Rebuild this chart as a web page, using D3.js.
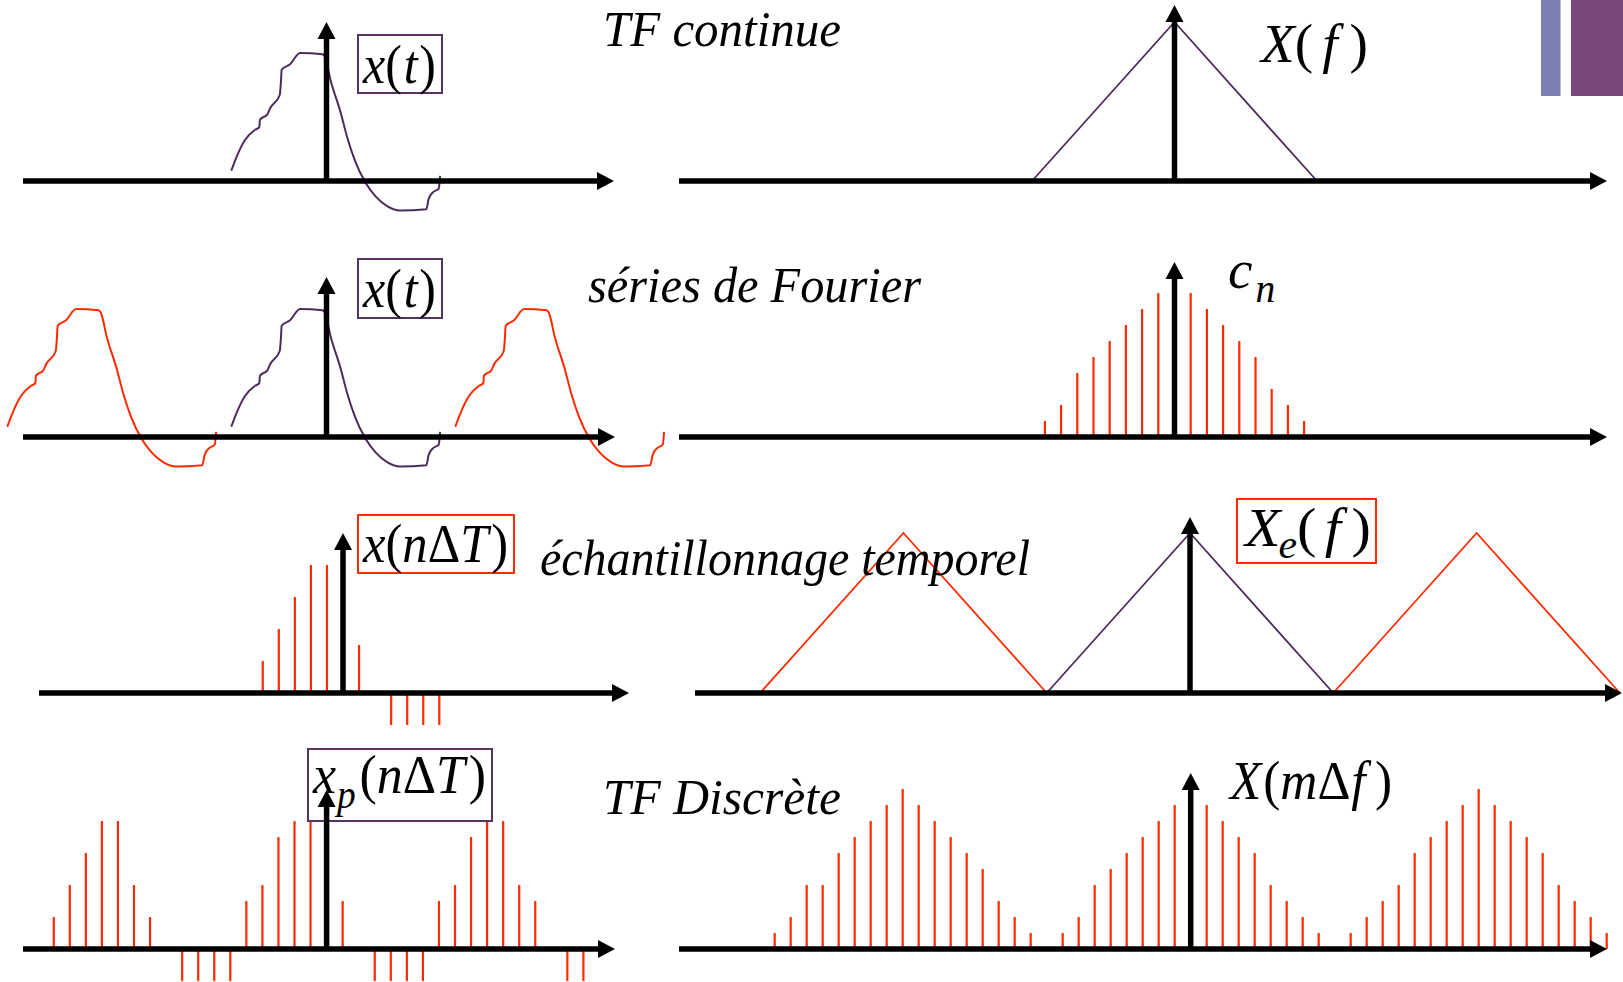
<!DOCTYPE html>
<html><head><meta charset="utf-8">
<script src="https://cdn.jsdelivr.net/npm/d3@7"></script>
<style>html,body{margin:0;padding:0;background:#fff;overflow:hidden}svg{display:block}</style>
</head><body>
<svg id="chart" width="1623" height="982"></svg>
<script>
// ---------------- DATA ----------------
// continuous signal x(t), one period (t in units, period = 10), amplitude peak = 1
const signalT = [-4.25,-4.01,-3.64,-3.19,-3.00,-2.97,-2.64,-2.51,-2.09,-2.04,-2.00,-1.64,-1.18,-0.18,-0.05,0.18,0.64,0.91,1.27,1.73,2.19,2.74,3.28,4.46,4.56,4.74,5.01,5.07];
const signalX = [0.08,0.19,0.32,0.40,0.42,0.48,0.52,0.57,0.67,0.76,0.87,0.91,1.00,0.99,0.96,0.79,0.53,0.35,0.16,-0.01,-0.12,-0.20,-0.23,-0.22,-0.14,-0.09,-0.06,0.04];
const signalPeriod = 10;
const periodicCopies = [-1, 0, 1];

// continuous spectrum X(f): triangle
const spectrumF = [-1, 0, 1];
const spectrumX = [0, 1, 0];
const samplingFreq = 2;          // spectrum period after sampling
const spectrumCopies = [-1, 0, 1];

// Fourier series coefficients c_n
const cnIndex  = [-8,-7,-6,-5,-4,-3,-2,-1, 1, 2, 3, 4, 5, 6, 7, 8];
const cnValues = [ 1, 2, 4, 5, 6, 7, 8, 9, 9, 8, 7, 6, 5, 3, 2, 1];

// samples x(nΔT)
const sampleIndex  = [-5,-4,-3,-2,-1, 1, 3, 4, 5, 6];
const sampleValues = [ 2, 4, 6, 8, 8, 3,-2,-2,-2,-2];

// periodised samples x_p(nΔT)
const xpIndex  = [-17,-16,-15,-14,-13,-12,-11, -9,-8,-7,-6, -5,-4,-3,-2,-1, 0, 1, 3, 4, 5, 6, 7, 8, 9,10,11,12,13, 15,16];
const xpValues = [  2,  4,  6,  8,  8,  4,  2, -2,-2,-2,-2,  3, 4, 7, 8, 8, 4, 3,-2,-2,-2,-2, 3, 4, 7, 8, 8, 4, 3, -2,-2];

// DFT X(mΔf)
const dftIndex  = [-26,-25,-24,-23,-22,-21,-20,-19,-18,-17,-16,-15,-14,-13,-12,-11,-10,
                   -8,-7,-6,-5,-4,-3,-2,-1,0,1,2,3,4,5,6,7,8,
                   10,11,12,13,14,15,16,17,18,19,20,21,22,23,24,25,26];
const dftValues = [1,2,4,4,6,7,8,9,10,9,8,7,6,5,3,2,1,
                   1,2,4,5,6,7,8,9,10,9,8,7,6,4,3,2,1,
                   1,2,3,4,6,7,8,9,10,9,8,7,6,4,3,2,1];

// texts
const titles = ["TF continue", "séries de Fourier", "échantillonnage temporel", "TF Discrète"];

// ---------------- STYLE / LAYOUT ----------------
const RED = "#ff2a00", PURPLE = "#4b2b5e", BOXPURPLE = "#553462";
const FONT = "'Liberation Serif','Times New Roman',serif";
const svg = d3.select("#chart");

function panel(ox, oy, ux, uy) {
  return {
    x: d3.scaleLinear().domain([0, 1]).range([ox, ox + ux]),
    y: d3.scaleLinear().domain([0, 1]).range([oy, oy - uy]),
    ox, oy
  };
}
const P1L = panel(326.5, 181, 22.4, 128);
const P1R = panel(1174.5, 181, 142.5, 159);
const P2L = panel(326.5, 437, 22.4, 128);
const P2R = panel(1174.5, 437, 16.2, 16);
const P3L = panel(343, 693, 16.05, 16);
const P3R = panel(1190, 693, 143.3, 160);
const P4L = panel(326.6, 949, 16.05, 16);
const P4R = panel(1190.7, 949, 16, 16);

// decoration (top-right corner)
svg.append("rect").attr("x", 1541).attr("y", 0).attr("width", 19.5).attr("height", 96).attr("fill", "#7b80b0");
svg.append("rect").attr("x", 1571).attr("y", 0).attr("width", 52).attr("height", 96).attr("fill", "#7a4878");

const marks = svg.append("g");
const labels = svg.append("g");
const axes = svg.append("g");

// ---- continuous signal curves ----
const sig = signalT.map((t, i) => ({t, v: signalX[i]}));
function drawSignal(P, offset, color) {
  const line = d3.line().x(d => P.x(d.t + offset)).y(d => P.y(d.v)).curve(d3.curveMonotoneX);
  marks.append("path").attr("d", line(sig)).attr("fill", "none").attr("stroke", color).attr("stroke-width", 2);
}
drawSignal(P1L, 0, PURPLE);
periodicCopies.forEach(k => drawSignal(P2L, k * signalPeriod, k === 0 ? PURPLE : RED));

// ---- spectra triangles ----
const spec = spectrumF.map((f, i) => ({f, v: spectrumX[i]}));
function drawSpec(P, offset, color) {
  const line = d3.line().x(d => P.x(d.f + offset)).y(d => P.y(d.v));
  marks.append("path").attr("d", line(spec)).attr("fill", "none").attr("stroke", color).attr("stroke-width", 1.8);
}
drawSpec(P1R, 0, PURPLE);
spectrumCopies.forEach(k => drawSpec(P3R, k * samplingFreq, k === 0 ? PURPLE : RED));

// ---- stems ----
function drawStems(P, idx, vals) {
  marks.append("g").selectAll("line").data(idx.map((n, i) => ({n, v: vals[i]}))).join("line")
    .attr("x1", d => P.x(d.n)).attr("x2", d => P.x(d.n))
    .attr("y1", P.y(0)).attr("y2", d => P.y(d.v))
    .attr("stroke", RED).attr("stroke-width", 2.2);
}
drawStems(P2R, cnIndex, cnValues);
drawStems(P3L, sampleIndex, sampleValues);
drawStems(P4L, xpIndex, xpValues);
drawStems(P4R, dftIndex, dftValues);

// ---- titles ----
const titlePos = [
  {x: 603, y: 46, w: 238},
  {x: 588, y: 302, w: 333},
  {x: 540, y: 575, w: 490},
  {x: 603, y: 814, w: 238}
];
titles.forEach((t, i) => {
  labels.append("text").attr("x", titlePos[i].x).attr("y", titlePos[i].y)
    .attr("font-family", FONT).attr("font-style", "italic").attr("font-size", 50)
    .attr("textLength", titlePos[i].w).attr("lengthAdjust", "spacingAndGlyphs")
    .text(t);
});

// ---- math labels ----
function mathLabel(x, y, parts, w, size = 55) {
  const t = labels.append("text").attr("x", x).attr("y", y)
    .attr("font-family", FONT).attr("font-size", size).attr("fill", "#000");
  parts.forEach(p => {
    const s = t.append("tspan").text(p.t)
      .attr("font-style", p.i ? "italic" : "normal");
    if (p.sub) s.attr("font-size", size * 0.72);
    if (p.dy) s.attr("dy", p.dy);
    if (p.dx) s.attr("dx", p.dx);
  });
  if (w) t.attr("textLength", w).attr("lengthAdjust", "spacingAndGlyphs");
  return t;
}
function box(x, y, w, h, color) {
  labels.append("rect").attr("x", x).attr("y", y).attr("width", w).attr("height", h)
    .attr("fill", "none").attr("stroke", color).attr("stroke-width", 2);
}
const I = true, N = false;
box(358, 35, 84, 58, BOXPURPLE);
mathLabel(363, 83, [{t: "x", i: I}, {t: "(", i: N}, {t: "t", i: I, dx: 2}, {t: ")", i: N, dx: 2}], 73);
box(358, 259, 84, 59, BOXPURPLE);
mathLabel(363, 307, [{t: "x", i: I}, {t: "(", i: N}, {t: "t", i: I, dx: 2}, {t: ")", i: N, dx: 2}], 73);
mathLabel(1261, 62, [{t: "X", i: I}, {t: "(", i: N}, {t: "f", i: I, dx: 9}, {t: ")", i: N, dx: 12}], 107);
mathLabel(1228, 288, [{t: "c", i: I}, {t: "n", i: I, sub: true, dy: 14, dx: 3}]);
box(358, 515, 156, 58, RED);
mathLabel(363, 562, [{t: "x", i: I}, {t: "(", i: N}, {t: "n", i: I}, {t: "Δ", i: N}, {t: "T", i: I}, {t: ")", i: N, dx: 3}], 145);
box(1237, 499, 139, 64, RED);
mathLabel(1245, 546, [{t: "X", i: I}, {t: "e", i: I, sub: true, dy: 12, dx: -2}, {t: "(", i: N, dy: -12}, {t: "f", i: I, dx: 8}, {t: ")", i: N, dx: 10}], 126);
box(308, 749, 184, 72, BOXPURPLE);
mathLabel(313, 793, [{t: "x", i: I}, {t: "p", i: I, sub: true, dy: 15, dx: 1}, {t: "(", i: N, dy: -15, dx: 4}, {t: "n", i: I}, {t: "Δ", i: N}, {t: "T", i: I}, {t: ")", i: N, dx: 4}], 173);
mathLabel(1230, 799, [{t: "X", i: I}, {t: "(", i: N, dx: 2}, {t: "m", i: I}, {t: "Δ", i: N}, {t: "f", i: I, dx: 1}, {t: ")", i: N, dx: 10}], 162);

// ---- axes with arrows ----
const AL = 17, AW = 9, SW = 5.5;
function hAxis(P, x0, x1) {
  axes.append("line").attr("x1", x0).attr("x2", x1 - AL + 1).attr("y1", P.oy).attr("y2", P.oy)
    .attr("stroke", "#000").attr("stroke-width", SW);
  axes.append("path").attr("d", `M${x1},${P.oy}L${x1 - AL},${P.oy - AW}L${x1 - AL},${P.oy + AW}Z`).attr("fill", "#000");
}
function vAxis(P, y1) {
  axes.append("line").attr("x1", P.ox).attr("x2", P.ox).attr("y1", P.oy).attr("y2", y1 + AL - 1)
    .attr("stroke", "#000").attr("stroke-width", SW);
  axes.append("path").attr("d", `M${P.ox},${y1}L${P.ox - AW},${y1 + AL}L${P.ox + AW},${y1 + AL}Z`).attr("fill", "#000");
}
hAxis(P1L, 23, 614);  vAxis(P1L, 22);
hAxis(P1R, 679, 1607); vAxis(P1R, 5);
hAxis(P2L, 23, 615);  vAxis(P2L, 277);
hAxis(P2R, 679, 1607); vAxis(P2R, 262);
hAxis(P3L, 39, 629);  vAxis(P3L, 533);
hAxis(P3R, 695, 1622); vAxis(P3R, 517);
hAxis(P4L, 23, 615);  vAxis(P4L, 790);
hAxis(P4R, 679, 1607); vAxis(P4R, 773);
</script>
</body></html>
